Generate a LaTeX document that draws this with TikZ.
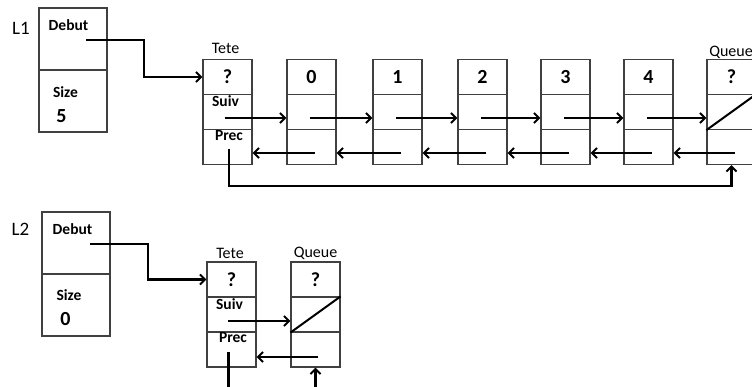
\documentclass[tikz,border=0pt]{standalone}
\usepackage{fontspec}
\setmainfont{Carlito}
\usetikzlibrary{arrows.meta,positioning}

\begin{document}
\begin{tikzpicture}[
  x=1pt, y=-1pt,
  cell/.style={draw=black!75, line width=1.2pt, minimum width=49pt,
    minimum height=35pt, inner sep=0pt},
  hbox/.style={draw=black!75, line width=1.2pt, minimum width=68pt,
    minimum height=62pt, inner sep=0pt},
  val/.style={font=\fontsize{20}{22}\selectfont\bfseries},
  fld/.style={font=\fontsize{15.5}{17}\selectfont\bfseries, inner sep=0pt},
  tag/.style={font=\fontsize{16}{18}\selectfont, inner sep=0pt},
  lst/.style={font=\fontsize{19}{21}\selectfont, inner sep=0pt},
  suiv/.style={label={[fld, anchor=north, yshift=-2pt, xshift=-2pt]north:Suiv}},
  prec/.style={label={[fld, anchor=north, yshift=-1pt, xshift=1.5pt]north:Prec}},
  arr/.style={-{Straight Barb[length=5pt, width=10pt, line width=2pt]}, line width=2.3pt}
]
\useasboundingbox (0,0) rectangle (752,387);
\clip (0,0) rectangle (752,387);
%% ─── List L1 ───────────────────────────────────────────────────────────────
\node[lst]  (l1name) at (21,28)     {L1};
\node[hbox] (l1deb)  at (73,39)     {};
\node[hbox] (l1siz)  at (73,101)    {};
\node[fld]  (l1debt) at (68.5,25)   {Debut};
\node[fld]  (l1sizt) at (65.5,92)   {Size};
\node[fld, font=\fontsize{20}{22}\selectfont\bfseries] (l1cnt) at (61.5,116) {5};
%% Tete
\node[tag]        (t1tag) at (225.5,48) {Tete};
\node[cell, val]  (t1v)   at (227.5,77)  {?};
\node[cell, suiv] (t1s)   at (227.5,112) {};
\node[cell, prec] (t1p)   at (227.5,147) {};
%% elements 0..4
\foreach \k/\x in {0/311.5, 1/397.5, 2/482.5, 3/565.5, 4/648.5}{
  \node[cell, val] (n\k v) at (\x,77)  {\k};
  \node[cell]      (n\k s) at (\x,112) {};
  \node[cell]      (n\k p) at (\x,147) {};
}
%% Queue
\node[tag]       (q1tag) at (731,52)    {Queue};
\node[cell, val] (q1v)   at (731.5,77)  {?};
\node[cell]      (q1s)   at (731.5,112) {};
\node[cell]      (q1p)   at (731.5,147) {};
\draw[line width=2pt] (q1s.south west) -- (q1s.north east);
%% ─── Arrows L1 ─────────────────────────────────────────────────────────────
\draw[arr] ([shift={(13,1)}]l1deb.center) -- ++(58,0) |- (t1v.west);
\draw[arr] ([shift={(-3,6)}]t1s.center) -- ([shift={(0,6)}]n0s.west);
\draw[arr] ([shift={(-1.5,6)}]n0s.center) -- ([shift={(0,6)}]n1s.west);
\draw[arr] ([shift={(-1.5,6)}]n1s.center) -- ([shift={(0,6)}]n2s.west);
\draw[arr] ([shift={(-1.5,6)}]n2s.center) -- ([shift={(0,6)}]n3s.west);
\draw[arr] ([shift={(-1.5,6)}]n3s.center) -- ([shift={(0,6)}]n4s.west);
\draw[arr] ([shift={(-1.5,6)}]n4s.center) -- ([shift={(0,6)}]q1s.west);
\draw[arr] ([shift={(3,6)}]n0p.center) -- ([shift={(0,6)}]t1p.east);
\draw[arr] ([shift={(3,6)}]n1p.center) -- ([shift={(0,6)}]n0p.east);
\draw[arr] ([shift={(3,6)}]n2p.center) -- ([shift={(0,6)}]n1p.east);
\draw[arr] ([shift={(3,6)}]n3p.center) -- ([shift={(0,6)}]n2p.east);
\draw[arr] ([shift={(3,6)}]n4p.center) -- ([shift={(0,6)}]n3p.east);
\draw[arr] ([shift={(3.5,6)}]q1p.center) -- ([shift={(0,6)}]n4p.east);
\draw[arr] ([shift={(1.5,2)}]t1p.center) -- ++(0,37) -| (q1p.south);
%% ─── List L2 ───────────────────────────────────────────────────────────────
\node[lst]  (l2name) at (20.5,229)  {L2};
\node[hbox] (l2deb)  at (76,243)    {};
\node[hbox] (l2siz)  at (76,305)    {};
\node[fld]  (l2debt) at (72.5,229)  {Debut};
\node[fld]  (l2sizt) at (69,295.5)  {Size};
\node[fld, font=\fontsize{20}{22}\selectfont\bfseries] (l2cnt) at (65.5,319) {0};
\node[tag]        (t2tag) at (230,253)    {Tete};
\node[cell, val]  (t2v)   at (231.5,279.5) {?};
\node[cell, suiv] (t2s)   at (231.5,314.5) {};
\node[cell, prec] (t2p)   at (231.5,349.5) {};
\node[tag]        (q2tag) at (315.5,253)   {Queue};
\node[cell, val]  (q2v)   at (315.5,279.5) {?};
\node[cell]       (q2s)   at (315.5,314.5) {};
\node[cell]       (q2p)   at (315.5,349.5) {};
\draw[line width=2pt] (q2s.south west) -- (q2s.north east);
%% ─── Arrows L2 ─────────────────────────────────────────────────────────────
\draw[arr] ([shift={(14,1)}]l2deb.center) -- ++(58,0) |- (t2v.west);
\draw[arr] ([shift={(-3.5,6.5)}]t2s.center) -- ([shift={(0,6.5)}]q2s.west);
\draw[arr] ([shift={(2.5,7.5)}]q2p.center) -- ([shift={(0,7.5)}]t2p.east);
\draw[arr] ([shift={(-3,2.5)}]t2p.center) -- ++(0,50) -| (q2p.south);
\end{tikzpicture}
\end{document}
